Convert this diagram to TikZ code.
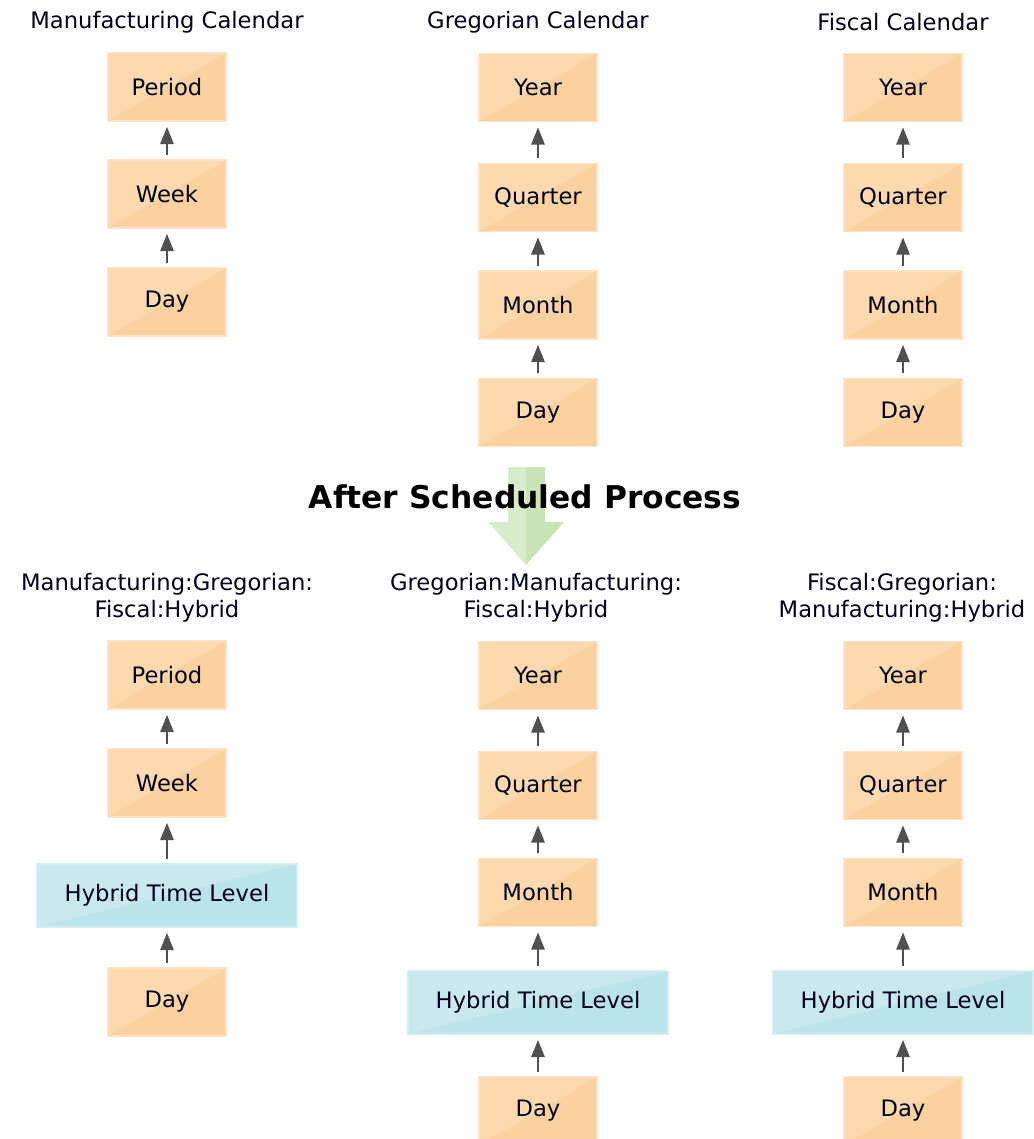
\documentclass[tikz,border=0pt]{standalone}
\usepackage{fontspec}
\setmainfont{DejaVu Sans}
\usetikzlibrary{arrows.meta,positioning}
\definecolor{lvlfill}{HTML}{FCD1A0}
\definecolor{lvllight}{HTML}{FDD9B0}
\definecolor{lvledge}{HTML}{FDE3C6}
\definecolor{hybfill}{HTML}{BAE3EA}
\definecolor{hyblight}{HTML}{C9E9EF}
\definecolor{hybedge}{HTML}{D4EEF2}
\definecolor{upgray}{HTML}{505050}
\definecolor{bigleft}{HTML}{D8ECCB}
\definecolor{bigright}{HTML}{C9E4B6}
\colorlet{labtext}{black!90!blue}
\tikzset{
  x=0.75pt, y=-0.75pt, % pixel grid, y pointing down
  level/.style={draw=lvledge, line width=0.8pt, fill=lvlfill, minimum width=88.5pt, minimum height=51pt,
    inner sep=0, text=labtext, font=\fontsize{17}{20}\selectfont,
    path picture={\fill[lvllight] (path picture bounding box.south west) -- (path picture bounding box.north west)
      -- (path picture bounding box.north east) -- cycle;}},
  level hyb/.style={level, draw=hybedge, fill=hybfill, minimum width=195pt, minimum height=47.25pt,
    path picture={\fill[hyblight] (path picture bounding box.south west) -- (path picture bounding box.north west)
      -- (path picture bounding box.north east) -- cycle;}},
  cal title/.style={align=center, text=labtext, font=\fontsize{17}{20.5}\selectfont},
  up/.style={-{Triangle[length=13pt,width=10pt]}, line width=1.6pt, upgray, shorten <=3.5pt, shorten >=4pt}
}

\begin{document}
\begin{tikzpicture}
    \useasboundingbox (0,0) rectangle (1033,1139);

    % Big arrow behind the heading
    \fill[bigleft] (526,467) -- (508,467) -- (508,522) -- (488,522) -- (526,565) -- cycle;
    \fill[bigright] (526,467) -- (545,467) -- (545,522) -- (564,522) -- (526,565) -- cycle;
    \node[font=\fontsize{23.5}{26}\bfseries\selectfont] (head) at (525,497) {After Scheduled Process};

    % Calendar titles
    \node[cal title] (t1) at (167,22) {Manufacturing Calendar};
    \node[cal title] (t2) at (538,22) {Gregorian Calendar};
    \node[cal title] (t3) at (903,22) {Fiscal Calendar};

    \node[cal title] (b1) at (167,598) {Manufacturing:Gregorian:\\Fiscal:Hybrid};
    \node[cal title] (b2) at (536,598) {Gregorian:Manufacturing:\\Fiscal:Hybrid};
    \node[cal title] (b3) at (902,598) {Fiscal:Gregorian:\\Manufacturing:Hybrid};

    % Manufacturing calendar
    \node[level] (m period) at (167,87) {Period};
    \node[level] (m week) at (167,194) {Week};
    \node[level] (m day) at (167,302) {Day};

    % Gregorian calendar
    \node[level] (g year) at (538,87.5) {Year};
    \node[level] (g quarter) at (538,197.5) {Quarter};
    \node[level] (g month) at (538,305) {Month};
    \node[level] (g day) at (538,412.5) {Day};

    % Fiscal calendar
    \node[level] (f year) at (903,87.5) {Year};
    \node[level] (f quarter) at (903,197.5) {Quarter};
    \node[level] (f month) at (903,305) {Month};
    \node[level] (f day) at (903,412.5) {Day};

    % Hybrid calendars
    \node[level] (mh period) at (167,675) {Period};
    \node[level] (mh week) at (167,783) {Week};
    \node[level hyb] (mh hyb) at (167,895.5) {Hybrid Time Level};
    \node[level] (mh day) at (167,1002) {Day};

    \node[level] (gh year) at (538,675.5) {Year};
    \node[level] (gh quarter) at (538,785.5) {Quarter};
    \node[level] (gh month) at (538,892.5) {Month};
    \node[level hyb] (gh hyb) at (538,1002.5) {Hybrid Time Level};
    \node[level] (gh day) at (538,1111) {Day};

    \node[level] (fh year) at (903,675.5) {Year};
    \node[level] (fh quarter) at (903,785.5) {Quarter};
    \node[level] (fh month) at (903,892.5) {Month};
    \node[level hyb] (fh hyb) at (903,1002.5) {Hybrid Time Level};
    \node[level] (fh day) at (903,1111) {Day};

    % Roll-up arrows
    \foreach \a/\b in {m day/m week, m week/m period,
                       g day/g month, g month/g quarter, g quarter/g year,
                       f day/f month, f month/f quarter, f quarter/f year,
                       mh day/mh hyb, mh hyb/mh week, mh week/mh period,
                       gh day/gh hyb, gh hyb/gh month, gh month/gh quarter, gh quarter/gh year,
                       fh day/fh hyb, fh hyb/fh month, fh month/fh quarter, fh quarter/fh year}
        \draw[up] (\a) -- (\b);
\end{tikzpicture}
\end{document}
